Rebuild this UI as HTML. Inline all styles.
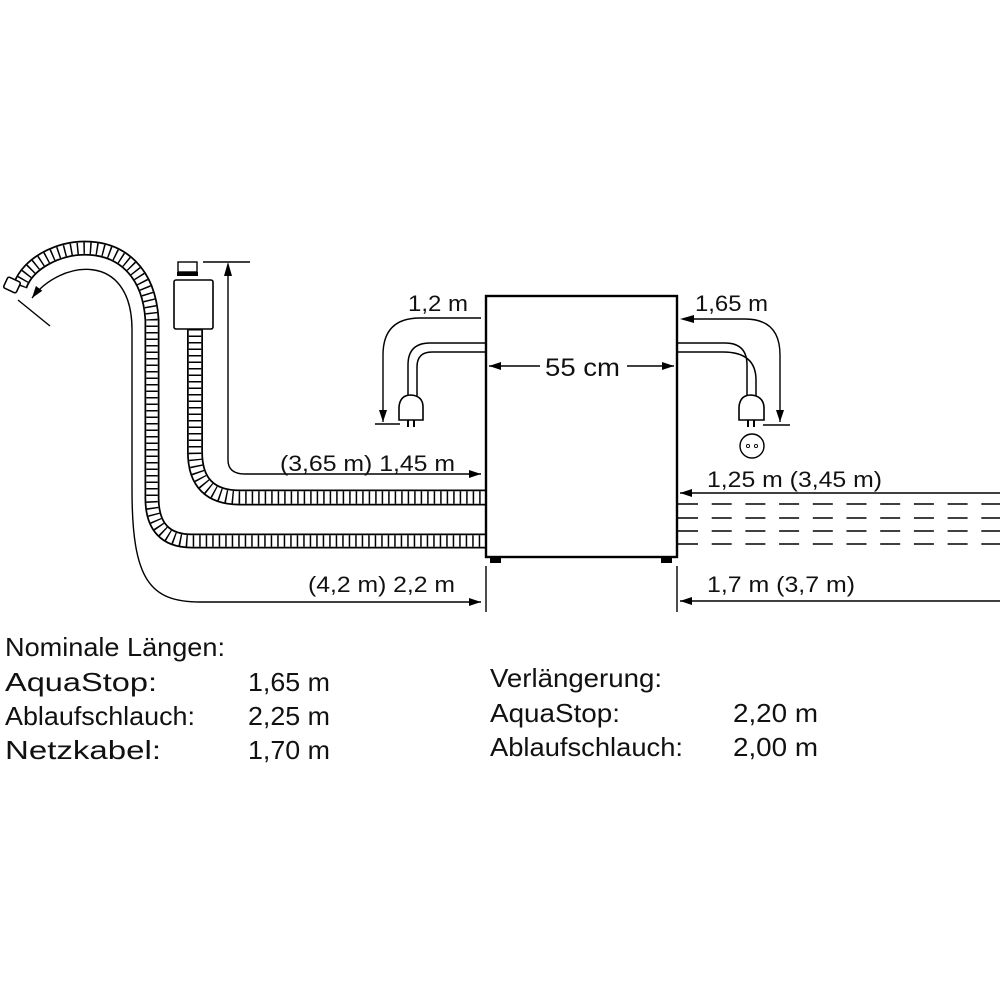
<!DOCTYPE html>
<html><head><meta charset="utf-8"><style>
html,body{margin:0;padding:0;background:#fff}
svg{display:block}
text{font-family:"Liberation Sans",Arial,sans-serif;fill:#111}
</style></head><body>
<svg width="1000" height="1000" viewBox="0 0 1000 1000" xmlns="http://www.w3.org/2000/svg">
<defs>
<marker id="ah" viewBox="0 0 12 8" refX="12" refY="4" markerWidth="12" markerHeight="8" markerUnits="userSpaceOnUse" orient="auto"><path d="M0,0 L12,4 L0,8 z" fill="#000"/></marker>
</defs>
<g fill="none" stroke="#000">
<!-- lower (drain) hose -->
<g>
<path d="M20 286 C36 240 146 220 152 320 L152 498 Q152 541 192 541 L486 541" stroke-width="15"/>
<path d="M20 286 C36 240 146 220 152 320 L152 498 Q152 541 192 541 L486 541" stroke="#fff" stroke-width="11.5"/>
<path d="M20 286 C36 240 146 220 152 320 L152 498 Q152 541 192 541 L486 541" stroke-width="11.5" stroke-dasharray="1.5 5"/>
</g>
<rect x="5" y="279" width="14" height="12" rx="2" transform="rotate(25 12 285)" fill="#fff" stroke-width="1.6"/>
<!-- upper (aquastop) hose -->
<g>
<path d="M195 329 L195 452 Q195 497.5 240 497.5 L486 497.5" stroke-width="16"/>
<path d="M195 329 L195 452 Q195 497.5 240 497.5 L486 497.5" stroke="#fff" stroke-width="12.5"/>
<path d="M195 329 L195 452 Q195 497.5 240 497.5 L486 497.5" stroke-width="12.5" stroke-dasharray="1.5 5"/>
</g>
<rect x="174" y="280" width="39" height="49" rx="2" fill="#fff" stroke-width="1.6"/>
<rect x="178" y="262" width="19" height="10" fill="#fff" stroke-width="1.4"/>
<rect x="177" y="272" width="21" height="4" fill="#000" stroke="none"/>
<!-- dimension 1.45 -->
<line x1="203" y1="262" x2="250" y2="262" stroke-width="1.4"/>
<path d="M228 274 L228 460 Q228 474 245 474 L481 474" stroke-width="1.4" marker-end="url(#ah)"/>
<path d="M228 262 L224 276 L232 276 z" fill="#000" stroke="none"/>
<!-- thin drain arrow -->
<path d="M132 490 L132 330 C132 250 60 260 32 298" stroke-width="1.4" marker-end="url(#ah)"/>
<path d="M132 490 C132 580 150 602 200 602 L481 602" stroke-width="1.4" marker-end="url(#ah)"/>
<line x1="18" y1="300" x2="50" y2="326" stroke-width="1.4"/>
<!-- appliance -->
<rect x="486" y="296" width="191" height="261" fill="#fff" stroke-width="2.4"/>
<rect x="490" y="557" width="11" height="6" fill="#000" stroke="none"/>
<rect x="661" y="557" width="11" height="6" fill="#000" stroke="none"/>
<line x1="486" y1="566" x2="486" y2="612" stroke-width="1.4"/>
<line x1="677" y1="566" x2="677" y2="612" stroke-width="1.4"/>
<line x1="540" y1="366" x2="489" y2="366" stroke-width="1.4" marker-end="url(#ah)"/>
<line x1="627" y1="366" x2="674" y2="366" stroke-width="1.4" marker-end="url(#ah)"/>
<!-- left cable -->
<path d="M486 343 L430 343 Q408 343 408 365 L408 396" stroke-width="1.5"/>
<path d="M486 352 L432 352 Q417 352 417 367 L417 396" stroke-width="1.5"/>
<path d="M399 420 L399 407 Q400 395 411 395 Q423 396 423 407 L423 420 z" fill="#fff" stroke-width="1.6"/>
<line x1="408" y1="420" x2="408" y2="427" stroke-width="2"/>
<line x1="414" y1="420" x2="414" y2="427" stroke-width="2"/>
<path d="M481 318 L420 318 Q383 318 383 355 L383 422" stroke-width="1.4" marker-end="url(#ah)"/>
<line x1="375" y1="424" x2="400" y2="424" stroke-width="1.4"/>
<!-- right cable -->
<path d="M677 343 L725 343 Q747 343 747 365 L747 396" stroke-width="1.5"/>
<path d="M677 352 L723 352 Q756 352 756 380 L756 396" stroke-width="1.5"/>
<path d="M739 420 L739 407 Q740 395 751 395 Q763 396 764 407 L764 420 z" fill="#fff" stroke-width="1.6"/>
<line x1="748" y1="420" x2="748" y2="427" stroke-width="2"/>
<line x1="754" y1="420" x2="754" y2="427" stroke-width="2"/>
<path d="M692 319 L745 319 Q780 319 780 355 L780 422" stroke-width="1.4" marker-end="url(#ah)"/>
<path d="M680 319 L694 315 L694 323 z" fill="#000" stroke="none"/>
<line x1="763" y1="425" x2="790" y2="425" stroke-width="1.4"/>
<circle cx="752" cy="446" r="12" stroke-width="1.4"/>
<circle cx="748" cy="446" r="1.6" stroke-width="0.9"/>
<circle cx="756" cy="446" r="1.6" stroke-width="0.9"/>
<line x1="1000" y1="493" x2="680" y2="493" stroke-width="1.4" marker-end="url(#ah)"/>
<line x1="1000" y1="601" x2="680" y2="601" stroke-width="1.4" marker-end="url(#ah)"/>
<g stroke-width="1.6" stroke-dasharray="20 13.7">
<line x1="678" y1="504" x2="1000" y2="504"/>
<line x1="678" y1="518" x2="1000" y2="518"/>
<line x1="678" y1="531" x2="1000" y2="531"/>
<line x1="678" y1="544" x2="1000" y2="544"/>
</g>
</g>
<g font-size="22">
<text x="408" y="311" textLength="60" lengthAdjust="spacingAndGlyphs">1,2 m</text>
<text x="695" y="311" textLength="73" lengthAdjust="spacingAndGlyphs">1,65 m</text>
<text x="545" y="376" font-size="25" textLength="75" lengthAdjust="spacingAndGlyphs">55 cm</text>
<text x="280" y="471" textLength="175" lengthAdjust="spacingAndGlyphs">(3,65 m) 1,45 m</text>
<text x="707" y="487" textLength="175" lengthAdjust="spacingAndGlyphs">1,25 m (3,45 m)</text>
<text x="308" y="592" textLength="147" lengthAdjust="spacingAndGlyphs">(4,2 m) 2,2 m</text>
<text x="707" y="592" textLength="148" lengthAdjust="spacingAndGlyphs">1,7 m (3,7 m)</text>
</g>
<g font-size="26">
<text x="5" y="656" textLength="220" lengthAdjust="spacingAndGlyphs">Nominale Längen:</text>
<text x="5" y="691" textLength="152" lengthAdjust="spacingAndGlyphs">AquaStop:</text>
<text x="5" y="725" textLength="190" lengthAdjust="spacingAndGlyphs">Ablaufschlauch:</text>
<text x="5" y="759" textLength="156" lengthAdjust="spacingAndGlyphs">Netzkabel:</text>
<text x="248" y="691" textLength="82" lengthAdjust="spacingAndGlyphs">1,65 m</text>
<text x="248" y="725" textLength="82" lengthAdjust="spacingAndGlyphs">2,25 m</text>
<text x="248" y="759" textLength="82" lengthAdjust="spacingAndGlyphs">1,70 m</text>
<text x="490" y="687" textLength="172" lengthAdjust="spacingAndGlyphs">Verlängerung:</text>
<text x="490" y="722" textLength="130" lengthAdjust="spacingAndGlyphs">AquaStop:</text>
<text x="490" y="756" textLength="193" lengthAdjust="spacingAndGlyphs">Ablaufschlauch:</text>
<text x="733" y="722" textLength="85" lengthAdjust="spacingAndGlyphs">2,20 m</text>
<text x="733" y="756" textLength="85" lengthAdjust="spacingAndGlyphs">2,00 m</text>
</g>
</svg>
</body></html>
